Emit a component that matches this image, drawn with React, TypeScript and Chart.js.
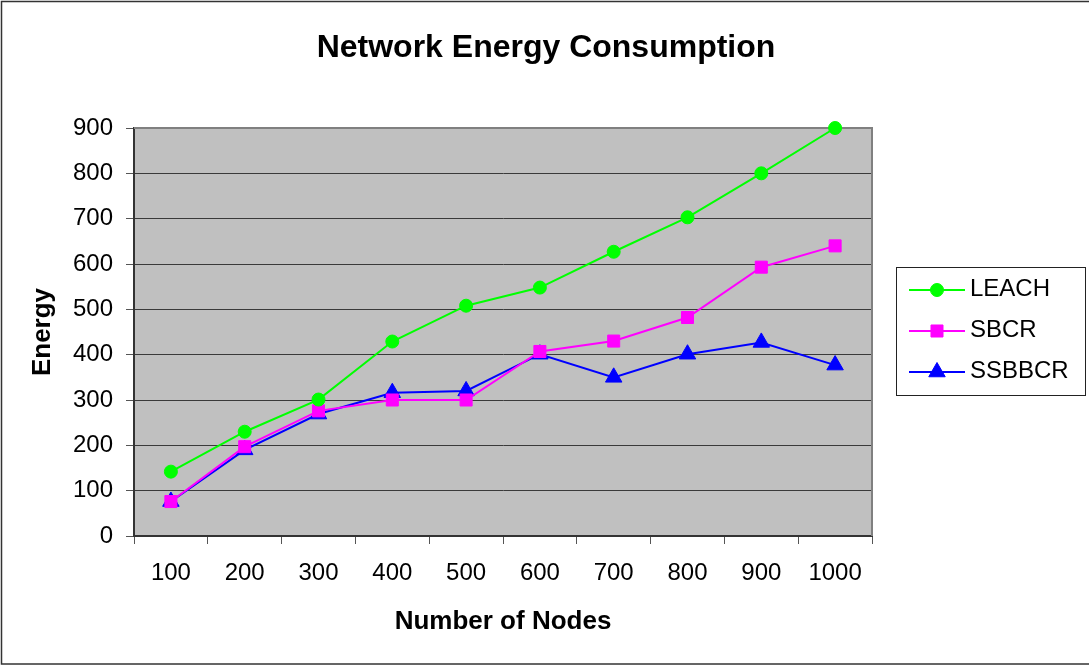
import React, { useEffect, useRef } from "react";
import { Chart, registerables } from "chart.js";
import { drawPoint } from "chart.js/helpers";

Chart.register(...registerables);

// Node counts along the x axis
const nodeCounts = ["100", "200", "300", "400", "500", "600", "700", "800", "900", "1000"];

// Energy values per protocol
const leachEnergy = [142, 230, 301, 429, 508, 548, 627, 703, 800, 900];
const sbcrEnergy = [76, 197, 276, 300, 300, 407, 430, 482, 593, 640];
const ssbbcrEnergy = [76, 190, 269, 316, 320, 401, 350, 401, 427, 377];

const seriesNames = ["LEACH", "SBCR", "SSBBCR"];
const seriesColors = ["#00ff00", "#ff00ff", "#0000ff"];
const seriesMarkers = ["circle", "rect", "triangle"];
const seriesMarkerRadius = [6.5, 8.5, 9.5];

const energyMin = 0;
const energyMax = 900;
const energyStep = 100;

const chartTitle = "Network Energy Consumption";
const xAxisTitle = "Number of Nodes";
const yAxisTitle = "Energy";

const FONT = "'Liberation Sans', Arial, Helvetica, sans-serif";

// Grey plot background, outer frame and the plot's top/right edges
const framePlugin = {
  id: "framePlugin",
  beforeDraw(chart: any) {
    const { ctx, chartArea: a } = chart;
    ctx.save();
    ctx.fillStyle = "#ffffff";
    ctx.fillRect(0, 0, chart.width, chart.height);
    ctx.fillStyle = "#c0c0c0";
    ctx.fillRect(a.left, a.top, a.right - a.left, a.bottom - a.top);
    ctx.strokeStyle = "#333333";
    ctx.lineWidth = 1.5;
    ctx.strokeRect(1.5, 1.5, chart.width + 10, 662.5);
    ctx.restore();
  },
  beforeDatasetsDraw(chart: any) {
    const { ctx, chartArea: a } = chart;
    ctx.save();
    ctx.strokeStyle = "#808080";
    ctx.lineWidth = 2;
    ctx.beginPath();
    ctx.moveTo(a.left, a.top);
    ctx.lineTo(a.right, a.top);
    ctx.lineTo(a.right, a.bottom);
    ctx.stroke();
    ctx.restore();
  },
};

// Chart heading centred over the whole canvas
const headingPlugin = {
  id: "headingPlugin",
  afterDraw(chart: any) {
    const { ctx } = chart;
    ctx.save();
    ctx.fillStyle = "#000000";
    ctx.font = `bold 32px ${FONT}`;
    ctx.textAlign = "center";
    ctx.textBaseline = "alphabetic";
    ctx.fillText(chartTitle, 546, 57);
    ctx.restore();
  },
};

// Boxed legend on the right with line + marker samples
const boxLegendPlugin = {
  id: "boxLegendPlugin",
  afterDraw(chart: any) {
    const { ctx } = chart;
    const bx = 896.5;
    const by = 267.5;
    const bw = 189;
    const bh = 128;
    ctx.save();
    ctx.fillStyle = "#ffffff";
    ctx.fillRect(bx, by, bw, bh);
    ctx.strokeStyle = "#222222";
    ctx.lineWidth = 1;
    ctx.strokeRect(bx, by, bw, bh);
    chart.data.datasets.forEach((ds: any, i: number) => {
      const y = 290 + i * 41;
      ctx.strokeStyle = ds.borderColor;
      ctx.lineWidth = 2;
      ctx.beginPath();
      ctx.moveTo(909, y);
      ctx.lineTo(965, y);
      ctx.stroke();
      ctx.fillStyle = ds.pointBackgroundColor;
      ctx.strokeStyle = ds.pointBorderColor;
      ctx.lineWidth = 1;
      drawPoint(
        ctx,
        { pointStyle: ds.pointStyle, rotation: 0, radius: ds.pointRadius, borderWidth: 1 },
        937,
        y
      );
      ctx.fillStyle = "#000000";
      ctx.font = `24px ${FONT}`;
      ctx.textAlign = "left";
      ctx.textBaseline = "alphabetic";
      ctx.fillText(ds.label, 970, y + 6);
    });
    ctx.restore();
  },
};

export default function App() {
  const canvasRef = useRef<HTMLCanvasElement | null>(null);

  useEffect(() => {
    if (!canvasRef.current) return;
    const seriesData = [leachEnergy, sbcrEnergy, ssbbcrEnergy];
    const datasets = seriesNames.map((name, i) => ({
      label: name,
      data: seriesData[i],
      borderColor: seriesColors[i],
      backgroundColor: seriesColors[i],
      pointBackgroundColor: seriesColors[i],
      pointBorderColor: seriesColors[i],
      pointStyle: seriesMarkers[i],
      pointRadius: seriesMarkerRadius[i],
      pointBorderWidth: 1,
      borderWidth: 2,
      tension: 0,
      clip: false as any,
    }));

    const chart = new Chart(canvasRef.current, {
      type: "line",
      data: { labels: nodeCounts, datasets },
      plugins: [framePlugin, headingPlugin, boxLegendPlugin],
      options: {
        animation: false,
        responsive: false,
        maintainAspectRatio: false,
        layout: { padding: { left: 0, right: 217, top: 128, bottom: 0 } },
        plugins: {
          legend: { display: false },
          title: { display: false },
          tooltip: { enabled: false },
        },
        scales: {
          x: {
            offset: true,
            grid: {
              offset: true,
              drawOnChartArea: false,
              drawTicks: true,
              tickLength: 8,
              color: "#555555",
              lineWidth: 1,
            },
            border: { display: true, color: "#333333", width: 2 },
            ticks: {
              font: { family: FONT, size: 24 },
              color: "#000000",
              padding: 15,
              maxRotation: 0,
              autoSkip: false,
            },
            title: {
              display: true,
              text: xAxisTitle,
              color: "#000000",
              font: { family: FONT, size: 26, weight: "bold" },
              padding: { top: 0, bottom: 29 },
            },
            afterFit: (s: any) => {
              s.height = 130;
            },
          },
          y: {
            min: energyMin,
            max: energyMax,
            ticks: {
              stepSize: energyStep,
              font: { family: FONT, size: 24 },
              color: "#000000",
              padding: 13,
            },
            grid: {
              color: "#3a3a3a",
              tickColor: "#555555",
              lineWidth: 1,
              tickLength: 8,
              drawTicks: true,
            },
            border: { display: true, color: "#333333", width: 2 },
            title: {
              display: true,
              text: yAxisTitle,
              color: "#000000",
              font: { family: FONT, size: 26, weight: "bold" },
              padding: { top: 27, bottom: 0 },
            },
            afterFit: (s: any) => {
              s.width = 134;
            },
          },
        },
      } as any,
    });
    return () => chart.destroy();
  }, []);

  return (
    <div style={{ position: "absolute", left: 0, top: 0, width: 1089, height: 666 }}>
      <canvas ref={canvasRef} width={1089} height={666} style={{ display: "block" }} />
    </div>
  );
}
